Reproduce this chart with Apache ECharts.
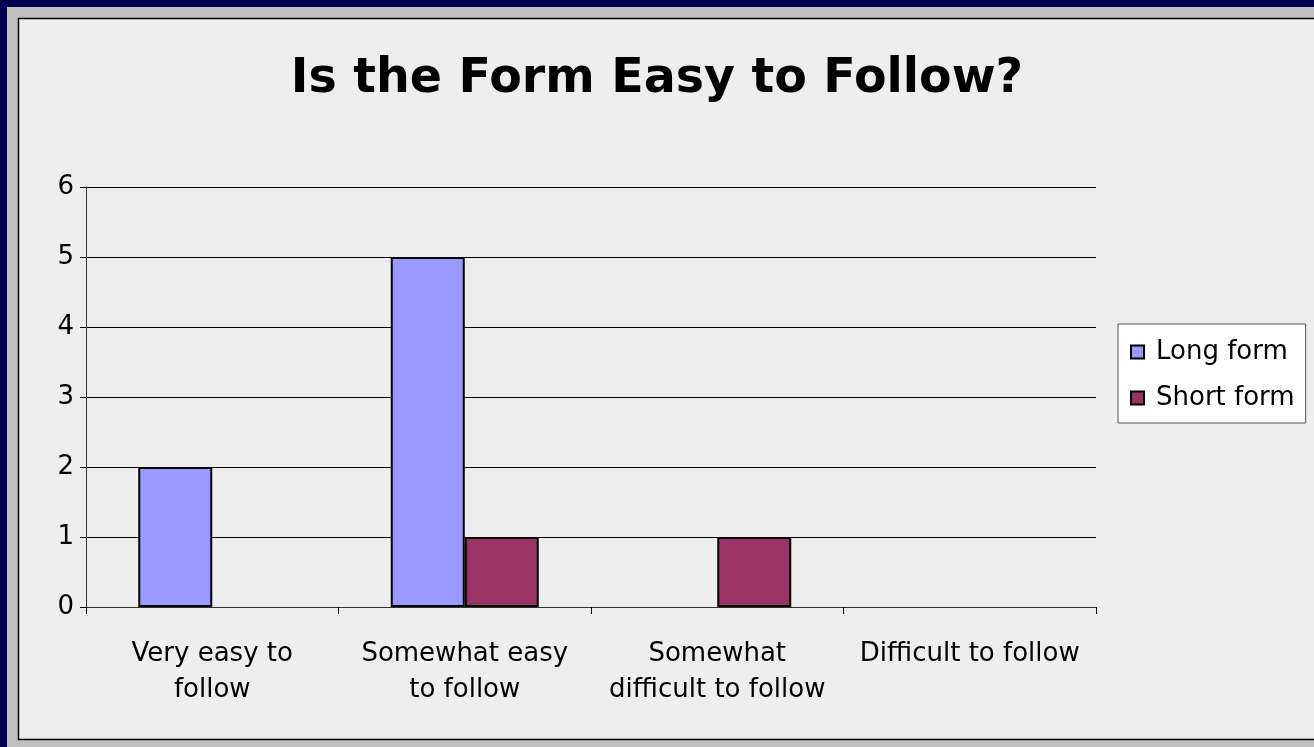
<!DOCTYPE html>
<html>
<head>
<meta charset="utf-8">
<script src="https://cdn.jsdelivr.net/npm/echarts@6/dist/echarts.min.js"></script>
<style>
html,body{margin:0;padding:0;background:#c0c0c0;}
#chart{width:1314px;height:747px;}
</style>
</head>
<body>
<div id="chart"></div>
<script>
const titleText = 'Is the Form Easy to Follow?';
const categories = ['Very easy to\nfollow', 'Somewhat easy\nto follow', 'Somewhat\ndifficult to follow', 'Difficult to follow'];
const seriesNames = ['Long form', 'Short form'];
const longForm = [2, 5, 0, 0];
const shortForm = [0, 1, 1, 0];
const yTicks = [0, 1, 2, 3, 4, 5, 6];

const chart = echarts.init(document.getElementById('chart'), null, {renderer: 'canvas'});
const FONT = 'DejaVu Sans';
function barData(arr) {
  return arr.map(v => v === 0 ? {value: v, itemStyle: {borderWidth: 0, opacity: 0}} : v);
}
const option = {
  backgroundColor: '#c0c0c0',
  animation: false,
  graphic: [
    {type: 'rect', shape: {x: 0, y: 0, width: 1314, height: 7}, style: {fill: '#000050'}, z: -10},
    {type: 'rect', shape: {x: 0, y: 0, width: 7, height: 747}, style: {fill: '#000050'}, z: -10},
    {type: 'rect', shape: {x: 18.5, y: 18.5, width: 1310, height: 721}, style: {fill: '#eeeeee', stroke: '#000', lineWidth: 1.5}, z: -10}
  ],
  title: {
    text: titleText,
    left: 'center',
    top: 51,
    textStyle: {fontFamily: FONT, fontWeight: 'bold', fontSize: 47.5, color: '#000'}
  },
  legend: {
    orient: 'vertical',
    left: 1118,
    top: 324,
    itemWidth: 13,
    itemHeight: 13,
    itemGap: 20,
    padding: [15, 11, 12, 12],
    backgroundColor: '#ffffff',
    borderColor: '#555',
    borderWidth: 1,
    icon: 'rect',
    itemStyle: {borderWidth: 2, borderColor: '#000'},
    textStyle: {fontFamily: FONT, fontSize: 26, color: '#000', padding: [0, 0, 0, 7]},
    data: seriesNames
  },
  grid: {left: 86, right: 218, top: 187, bottom: 140, containLabel: false},
  xAxis: {
    type: 'category',
    data: categories,
    axisLine: {lineStyle: {color: '#333', width: 1}},
    axisTick: {show: true, length: 7, lineStyle: {color: '#000'}},
    axisLabel: {fontFamily: FONT, fontSize: 26, color: '#000', margin: 29, lineHeight: 36, interval: 0}
  },
  yAxis: {
    type: 'value',
    min: yTicks[0],
    max: yTicks[yTicks.length - 1],
    interval: 1,
    axisLine: {show: true, lineStyle: {color: '#333', width: 1}},
    axisTick: {show: true, length: 6, lineStyle: {color: '#000'}},
    axisLabel: {fontFamily: FONT, fontSize: 26, color: '#000', margin: 12},
    splitLine: {lineStyle: {color: '#000', width: 1}}
  },
  series: [
    {name: seriesNames[0], type: 'bar', data: barData(longForm), barWidth: 74, barGap: '0%',
     itemStyle: {color: '#9999ff', borderColor: '#000', borderWidth: 2}},
    {name: seriesNames[1], type: 'bar', data: barData(shortForm), barWidth: 74, barGap: '0%',
     itemStyle: {color: '#993366', borderColor: '#000', borderWidth: 2}}
  ]
};
chart.setOption(option);
</script>
</body>
</html>
